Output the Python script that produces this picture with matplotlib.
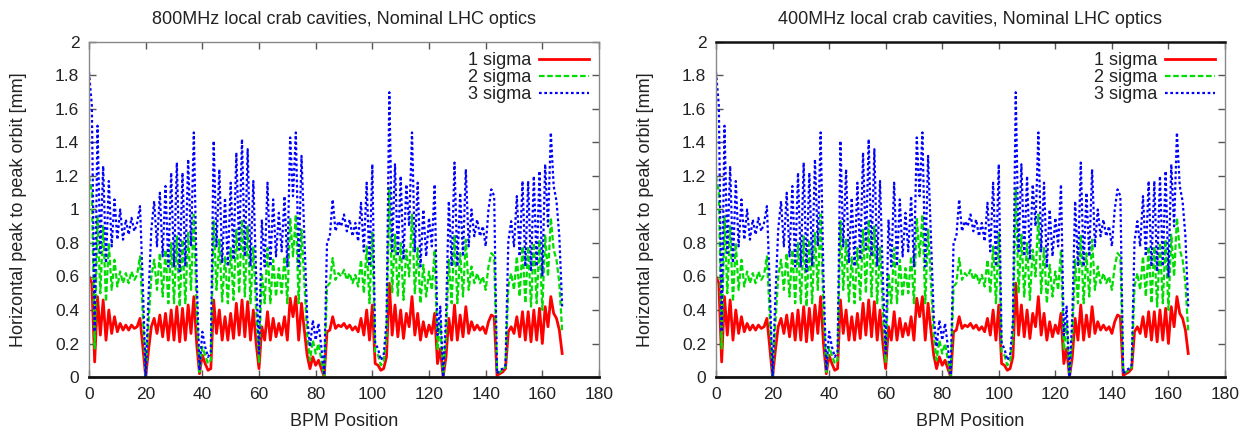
import matplotlib
matplotlib.use("Agg")
import matplotlib.pyplot as plt
from matplotlib.ticker import FuncFormatter, MultipleLocator

plt.rcParams['font.family'] = ['Liberation Sans', 'DejaVu Sans']

titles = ["800MHz local crab cavities, Nominal LHC optics",
          "400MHz local crab cavities, Nominal LHC optics"]
xlabel = "BPM Position"
ylabel = "Horizontal peak to peak orbit [mm]"
series_labels = ["1 sigma", "2 sigma", "3 sigma"]

bpm = list(range(168))

sigma1 = [0.60, 0.56, 0.09, 0.48, 0.25, 0.46, 0.22, 0.40, 0.26, 0.36,
          0.27, 0.32, 0.28, 0.31, 0.28, 0.31, 0.29, 0.30, 0.35, 0.18,
          0.00, 0.16, 0.30, 0.35, 0.26, 0.37, 0.24, 0.38, 0.22, 0.40,
          0.22, 0.42, 0.21, 0.41, 0.22, 0.43, 0.26, 0.48, 0.20, 0.02,
          0.13, 0.08, 0.04, 0.05, 0.46, 0.26, 0.40, 0.22, 0.36, 0.22,
          0.38, 0.23, 0.44, 0.25, 0.46, 0.24, 0.45, 0.22, 0.40, 0.20,
          0.05, 0.30, 0.22, 0.39, 0.22, 0.35, 0.24, 0.32, 0.25, 0.36,
          0.22, 0.47, 0.36, 0.48, 0.22, 0.44, 0.28, 0.13, 0.05, 0.12,
          0.07, 0.10, 0.05, 0.00, 0.27, 0.28, 0.36, 0.29, 0.31, 0.30,
          0.32, 0.29, 0.31, 0.28, 0.30, 0.27, 0.35, 0.25, 0.40, 0.22,
          0.43, 0.08, 0.07, 0.04, 0.05, 0.12, 0.56, 0.25, 0.43, 0.24,
          0.40, 0.23, 0.38, 0.30, 0.48, 0.25, 0.38, 0.22, 0.33, 0.24,
          0.31, 0.26, 0.38, 0.08, 0.17, 0.00, 0.12, 0.35, 0.22, 0.43,
          0.22, 0.37, 0.24, 0.42, 0.26, 0.33, 0.28, 0.31, 0.28, 0.30,
          0.26, 0.33, 0.37, 0.36, 0.01, 0.02, 0.03, 0.05, 0.27, 0.30,
          0.26, 0.36, 0.24, 0.39, 0.22, 0.39, 0.21, 0.40, 0.22, 0.41,
          0.20, 0.42, 0.30, 0.48, 0.38, 0.35, 0.28, 0.14]

sigma2 = [1.20, 1.10, 0.17, 0.96, 0.50, 0.90, 0.45, 0.80, 0.52, 0.70,
          0.54, 0.63, 0.56, 0.62, 0.56, 0.63, 0.58, 0.61, 0.72, 0.36,
          0.01, 0.32, 0.60, 0.70, 0.52, 0.74, 0.48, 0.76, 0.44, 0.80,
          0.44, 0.84, 0.42, 0.82, 0.44, 0.86, 0.52, 0.97, 0.40, 0.03,
          0.18, 0.13, 0.08, 0.10, 0.93, 0.52, 0.82, 0.45, 0.72, 0.44,
          0.77, 0.46, 0.88, 0.50, 0.94, 0.48, 0.90, 0.44, 0.78, 0.40,
          0.09, 0.62, 0.44, 0.77, 0.44, 0.70, 0.48, 0.65, 0.50, 0.72,
          0.44, 0.95, 0.72, 0.97, 0.44, 0.88, 0.56, 0.25, 0.10, 0.22,
          0.14, 0.20, 0.10, 0.00, 0.54, 0.56, 0.71, 0.58, 0.62, 0.60,
          0.64, 0.58, 0.62, 0.56, 0.61, 0.54, 0.70, 0.50, 0.78, 0.44,
          0.86, 0.15, 0.13, 0.07, 0.09, 0.24, 1.13, 0.50, 0.85, 0.48,
          0.80, 0.46, 0.76, 0.60, 0.97, 0.50, 0.77, 0.44, 0.67, 0.48,
          0.63, 0.52, 0.76, 0.16, 0.32, 0.00, 0.24, 0.70, 0.44, 0.85,
          0.44, 0.74, 0.48, 0.82, 0.52, 0.66, 0.56, 0.62, 0.56, 0.60,
          0.52, 0.66, 0.74, 0.72, 0.02, 0.03, 0.04, 0.06, 0.54, 0.62,
          0.52, 0.72, 0.48, 0.78, 0.44, 0.78, 0.42, 0.80, 0.44, 0.82,
          0.40, 0.85, 0.60, 0.95, 0.76, 0.70, 0.56, 0.27]

sigma3 = [1.82, 1.62, 0.27, 1.50, 0.74, 1.26, 0.68, 1.17, 0.78, 1.06,
          0.82, 1.00, 0.82, 0.94, 0.85, 0.95, 0.87, 0.92, 1.02, 0.55,
          0.00, 0.48, 0.88, 1.05, 0.78, 1.10, 0.72, 1.14, 0.66, 1.22,
          0.66, 1.28, 0.63, 1.22, 0.66, 1.30, 0.78, 1.46, 0.60, 0.04,
          0.27, 0.18, 0.12, 0.15, 1.41, 0.78, 1.24, 0.68, 1.07, 0.66,
          1.16, 0.70, 1.34, 0.76, 1.42, 0.72, 1.36, 0.66, 1.17, 0.60,
          0.14, 0.94, 0.66, 1.16, 0.66, 1.06, 0.72, 0.98, 0.75, 1.08,
          0.66, 1.43, 1.08, 1.46, 0.66, 1.32, 0.84, 0.36, 0.18, 0.34,
          0.22, 0.32, 0.18, 0.01, 0.80, 0.84, 1.06, 0.87, 0.93, 0.90,
          0.97, 0.87, 0.94, 0.84, 0.92, 0.81, 1.04, 0.75, 1.16, 0.66,
          1.27, 0.20, 0.17, 0.10, 0.13, 0.33, 1.70, 0.75, 1.27, 0.72,
          1.20, 0.70, 1.15, 0.90, 1.46, 0.75, 1.16, 0.66, 1.00, 0.72,
          0.95, 0.78, 1.15, 0.25, 0.42, 0.00, 0.36, 1.05, 0.66, 1.28,
          0.66, 1.10, 0.72, 1.24, 0.78, 1.00, 0.84, 0.94, 0.84, 0.90,
          0.78, 1.00, 1.12, 1.08, 0.02, 0.04, 0.05, 0.07, 0.81, 0.93,
          0.78, 1.08, 0.72, 1.17, 0.66, 1.17, 0.63, 1.20, 0.66, 1.23,
          0.60, 1.27, 0.90, 1.46, 1.14, 1.05, 0.84, 0.42]

colors = ['#ff0000', '#00dd00', '#0000ff']
styles = ['-', (0, (2.5, 1.2)), (0, (1.2, 1.2))]
widths = [2.0, 1.6, 1.6]

W, H = 1255, 434
fig = plt.figure(figsize=(W / 100, H / 100), dpi=100)
fig.patch.set_facecolor('white')

panels = [(89, 599), (716, 1225)]
top_px, bot_px = 42, 377
series = [sigma1, sigma2, sigma3]
text_color = '#222222'

for k, (l, r) in enumerate(panels):
    ax = fig.add_axes([l / W, 1 - bot_px / H, (r - l) / W, (bot_px - top_px) / H])
    for s, c, ls, lw, lab in zip(series, colors, styles, widths, series_labels):
        ax.plot(bpm, s, color=c, linestyle=ls, linewidth=lw, label=lab)
    ax.set_xlim(0, 180)
    ax.set_ylim(0, 2)
    ax.xaxis.set_major_locator(MultipleLocator(20))
    ax.yaxis.set_major_locator(MultipleLocator(0.2))
    ax.yaxis.set_major_formatter(FuncFormatter(lambda v, p: '%g' % round(v, 1)))
    ax.tick_params(direction='in', length=5, width=1, colors='#555555',
                   labelcolor=text_color, labelsize=12.5, top=True, right=True, pad=7)
    for side in ['left', 'right', 'top']:
        ax.spines[side].set_color('#888888')
        ax.spines[side].set_linewidth(1.0)
    ax.spines['bottom'].set_color('#111111')
    ax.spines['bottom'].set_linewidth(2.0)
    if k == 1:
        ax.spines['top'].set_color('#111111')
        ax.spines['top'].set_linewidth(1.8)
    ax.set_title(titles[k], fontsize=13, color=text_color, pad=13)
    ax.set_xlabel(xlabel, fontsize=13, color=text_color, labelpad=8)
    ax.set_ylabel(ylabel, fontsize=13, color=text_color, labelpad=20)
    leg = ax.legend(loc='upper right', frameon=False, markerfirst=False,
                    fontsize=13, handlelength=2.8, handletextpad=0.4,
                    labelspacing=0.0, borderaxespad=0.35, borderpad=0.2)
    for t in leg.get_texts():
        t.set_color(text_color)

fig.savefig('out.png', dpi=100)
